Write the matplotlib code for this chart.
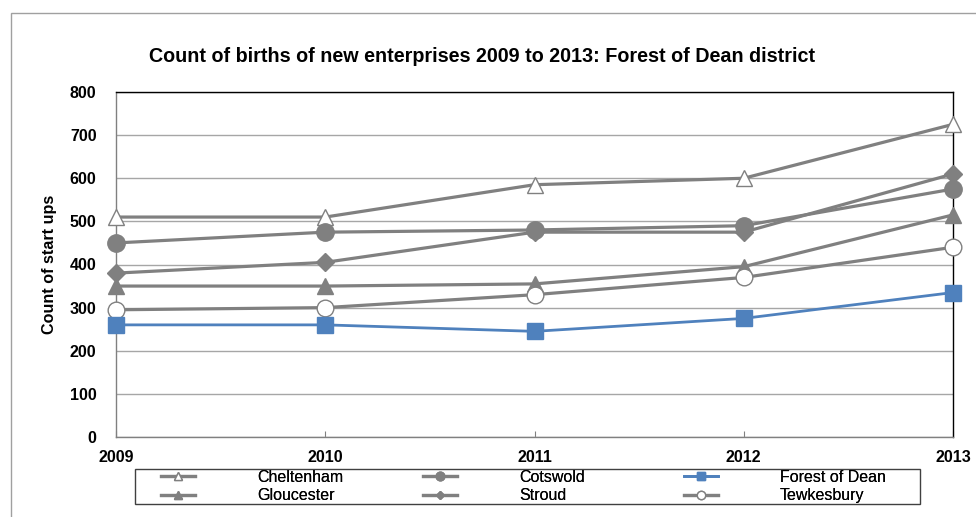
import matplotlib
matplotlib.use('Agg')
import matplotlib.pyplot as plt
from matplotlib.patches import Rectangle

plt.rcParams['font.family'] = ['Liberation Sans', 'DejaVu Sans']

# data --
years = [2009, 2010, 2011, 2012, 2013]
cheltenham = [510, 510, 585, 600, 725]
cotswold = [450, 475, 480, 490, 575]
forest_of_dean = [260, 260, 245, 275, 335]
gloucester = [350, 350, 355, 395, 515]
stroud = [380, 405, 475, 475, 610]
tewkesbury = [295, 300, 330, 370, 440]
yticks = [0, 100, 200, 300, 400, 500, 600, 700, 800]

W, H = 976, 517
fig = plt.figure(figsize=(W / 100, H / 100), dpi=100)
ax = fig.add_axes([116 / W, 1 - 437 / H, (953 - 116) / W, (437 - 92) / H])

gray = '#808080'
blue = '#4F81BD'

# plot lines --
common = dict(color=gray, lw=2.3, clip_on=False, zorder=3)
p1, = ax.plot(years, cheltenham, marker='^', ms=12, mfc='white', mec=gray, mew=1.0,
              label='Cheltenham', **common)
p2, = ax.plot(years, cotswold, marker='o', ms=12.5, mfc=gray, mec=gray,
              label='Cotswold', **common)
p4, = ax.plot(years, gloucester, marker='^', ms=12, mfc=gray, mec=gray,
              label='Gloucester', **common)
p5, = ax.plot(years, stroud, marker='D', ms=9, mfc=gray, mec=gray,
              label='Stroud', **common)
p6, = ax.plot(years, tewkesbury, marker='o', ms=12, mfc='white', mec=gray, mew=1.0,
              label='Tewkesbury', **common)
p3, = ax.plot(years, forest_of_dean, marker='s', ms=11.5, color=blue, mfc=blue, mec=blue,
              lw=2.0, clip_on=False, zorder=4, label='Forest of Dean')

# axes --
ax.set_xlim(years[0], years[-1])
ax.set_ylim(0, 800)
ax.set_xticks(years)
ax.set_yticks(yticks)
ax.grid(axis='y', color='#A6A6A6', lw=1.0, zorder=0)
ax.set_axisbelow(True)
ax.tick_params(axis='y', length=0, pad=14, labelsize=11.5)
ax.tick_params(axis='x', direction='in', length=4, color=gray, pad=9, labelsize=11.5)
for lab in ax.get_xticklabels() + ax.get_yticklabels():
    lab.set_fontweight('bold')
ax.spines['left'].set_color(gray)
ax.spines['bottom'].set_color(gray)
ax.spines['top'].set_color('black')
ax.spines['right'].set_color('black')
for s in ax.spines.values():
    s.set_linewidth(1.0)

ax.set_ylabel('Count of start ups', fontsize=11.6, fontweight='bold', labelpad=9)

# title --
fig.text(482 / W, 1 - 57 / H,
         'Count of births of new enterprises 2009 to 2013: Forest of Dean district',
         ha='center', va='center', fontsize=14.2, fontweight='bold')

# legend : one column each, equal pitch like the original --
columns = [[p1, p4], [p2, p5], [p3, p6]]
col_x = [161, 423, 684]
for hs, x in zip(columns, col_x):
    leg = fig.legend(hs, [h.get_label() for h in hs], ncol=1, frameon=False,
                     loc='center left', bbox_to_anchor=(x / W, 1 - 486.5 / H),
                     borderpad=0, borderaxespad=0, fontsize=11.5, markerscale=0.5,
                     handlelength=2.1, handletextpad=3.9, labelspacing=0.22)
    fig.add_artist(leg)
fig.add_artist(Rectangle((135 / W, 1 - 504 / H), (920 - 135) / W, (504 - 469) / H,
                         transform=fig.transFigure, fill=False, ec='#404040', lw=1.0))

# outer border --
fig.add_artist(Rectangle((11 / W, -0.2), 1.2, 1.2 - 13 / H, transform=fig.transFigure,
                         fill=False, ec='#A0A0A0', lw=1.0))

fig.savefig('out.png', dpi=100)
